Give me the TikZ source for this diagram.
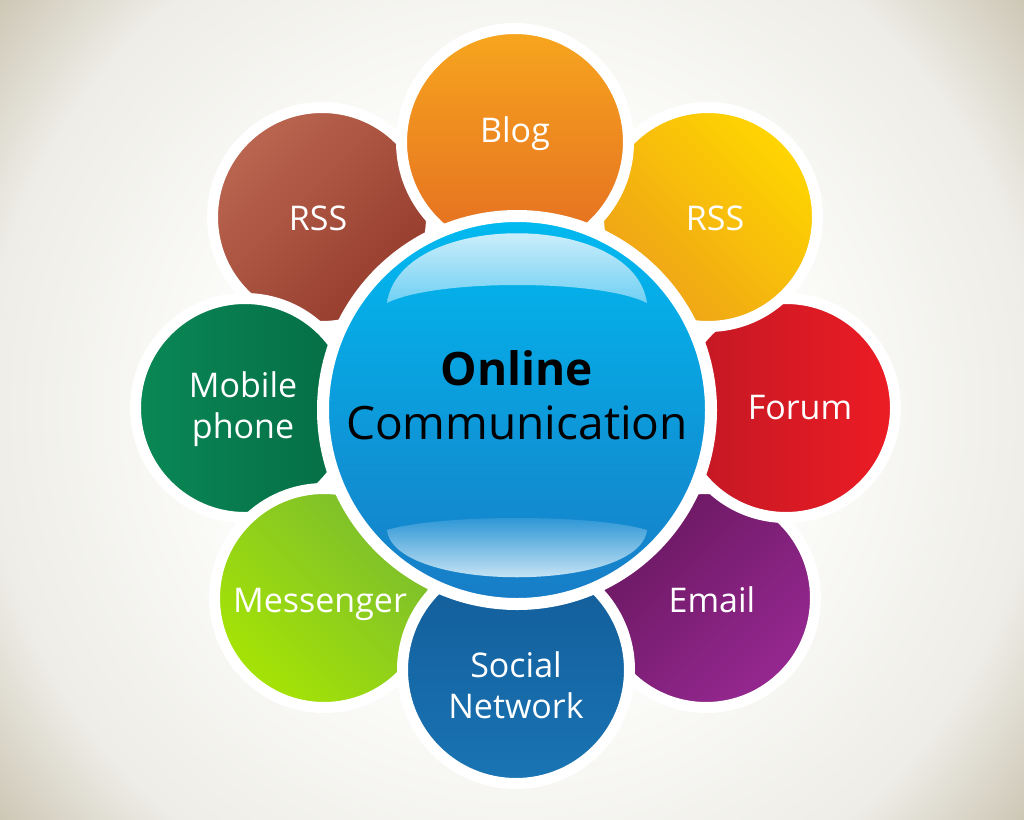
\documentclass[tikz,border=0pt]{standalone}
\usepackage{fontspec}
\setmainfont{Open Sans}
\usepackage{xcolor}
\usepackage{tikz}
\definecolor{bgcentre}{RGB}{252,252,250}
\definecolor{bgmid}{RGB}{238,237,231}
\definecolor{bgedge}{RGB}{204,198,180}
\definecolor{blogtop}{RGB}{247,166,30}
\definecolor{blogbot}{RGB}{228,108,34}
\definecolor{rssrtop}{RGB}{255,214,0}
\definecolor{rssrbot}{RGB}{238,160,25}
\definecolor{forumleft}{RGB}{192,24,36}
\definecolor{forumright}{RGB}{237,28,36}
\definecolor{emailtl}{RGB}{105,24,96}
\definecolor{emailbr}{RGB}{150,40,145}
\definecolor{socialtop}{RGB}{18,92,152}
\definecolor{socialbot}{RGB}{26,116,180}
\definecolor{msgtop}{RGB}{122,188,48}
\definecolor{msgbot}{RGB}{166,228,4}
\definecolor{mobleft}{RGB}{10,136,86}
\definecolor{mobright}{RGB}{5,108,68}
\definecolor{rssltl}{RGB}{186,102,80}
\definecolor{rsslbr}{RGB}{148,58,44}
\definecolor{hubtop}{RGB}{0,186,240}
\definecolor{hubbot}{RGB}{24,124,198}
\definecolor{shinetop}{RGB}{232,247,253}
\definecolor{shinebot}{RGB}{112,208,243}
\definecolor{shinelow}{RGB}{36,146,212}
\definecolor{shinewhite}{RGB}{238,247,252}
\pgfdeclareradialshading{backdrop}{\pgfpoint{0bp}{0bp}}{color(0bp)=(bgcentre); color(11bp)=(bgcentre); color(20bp)=(bgmid); color(25bp)=(bgedge); color(50bp)=(bgedge)}

\begin{document}
\begin{tikzpicture}[x=1pt, y=-1pt,
    petal/.style={circle, draw=white, line width=11pt, inner sep=0pt},
    petaltext/.style={text=white, align=center, font=\fontsize{34}{41}\selectfont}]
  \useasboundingbox (0,0) rectangle (1024,819);
  \begin{scope}
    \clip (0,0) rectangle (1024,819);
    \shade[shading=backdrop] (512,409) circle (660);
  \end{scope}
  % petals, back to front
  \foreach \name/\cx/\cy/\rad/\ca/\cb/\ang in {
      email/706/598/104/emailtl/emailbr/45,
      forum/786/408/104/forumleft/forumright/90,
      rssright/708/217/104/rssrtop/rssrbot/-45,
      rssleft/322/217/104/rssltl/rsslbr/45,
      blog/515/142/108/blogtop/blogbot/0,
      mobile/245/408/104/mobleft/mobright/90,
      messenger/324/598/104/msgtop/msgbot/-45,
      social/516/670/108/socialtop/socialbot/0} {
    \node[petal, minimum size={2*\rad+11}, top color=\ca, bottom color=\cb, shading angle=\ang] (\name) at (\cx,\cy) {};
  }
  % centre
  \node[circle, draw=white, line width=12pt, inner sep=0pt, minimum size=388, top color=hubtop, bottom color=hubbot] (hub) at (517,410) {};
  \shade[top color=shinetop, bottom color=shinebot] (387,303) .. controls (400,210) and (634,210) .. (647,303) .. controls (600,279) and (434,279) .. cycle;
  \shade[top color=shinelow, bottom color=shinewhite] (387,530) .. controls (440,514) and (594,514) .. (647,530) .. controls (640,593) and (394,593) .. cycle;
  \node[align=center, font=\fontsize{46}{54}\selectfont] (hubtext) at (517,395) {\textbf{Online}\\Communication};
  \foreach \name/\lx/\ly/\txt in {
      blog/515/134/Blog,
      rssright/715/218/RSS,
      forum/800/408/Forum,
      email/712/600/Email,
      social/516/685/{Social\\Network},
      messenger/320/604/Messenger,
      mobile/243/409/{Mobile\\phone},
      rssleft/318/218/RSS} {
    \node[petaltext] (\name text) at (\lx,\ly) {\txt};
  }
\end{tikzpicture}
\end{document}
